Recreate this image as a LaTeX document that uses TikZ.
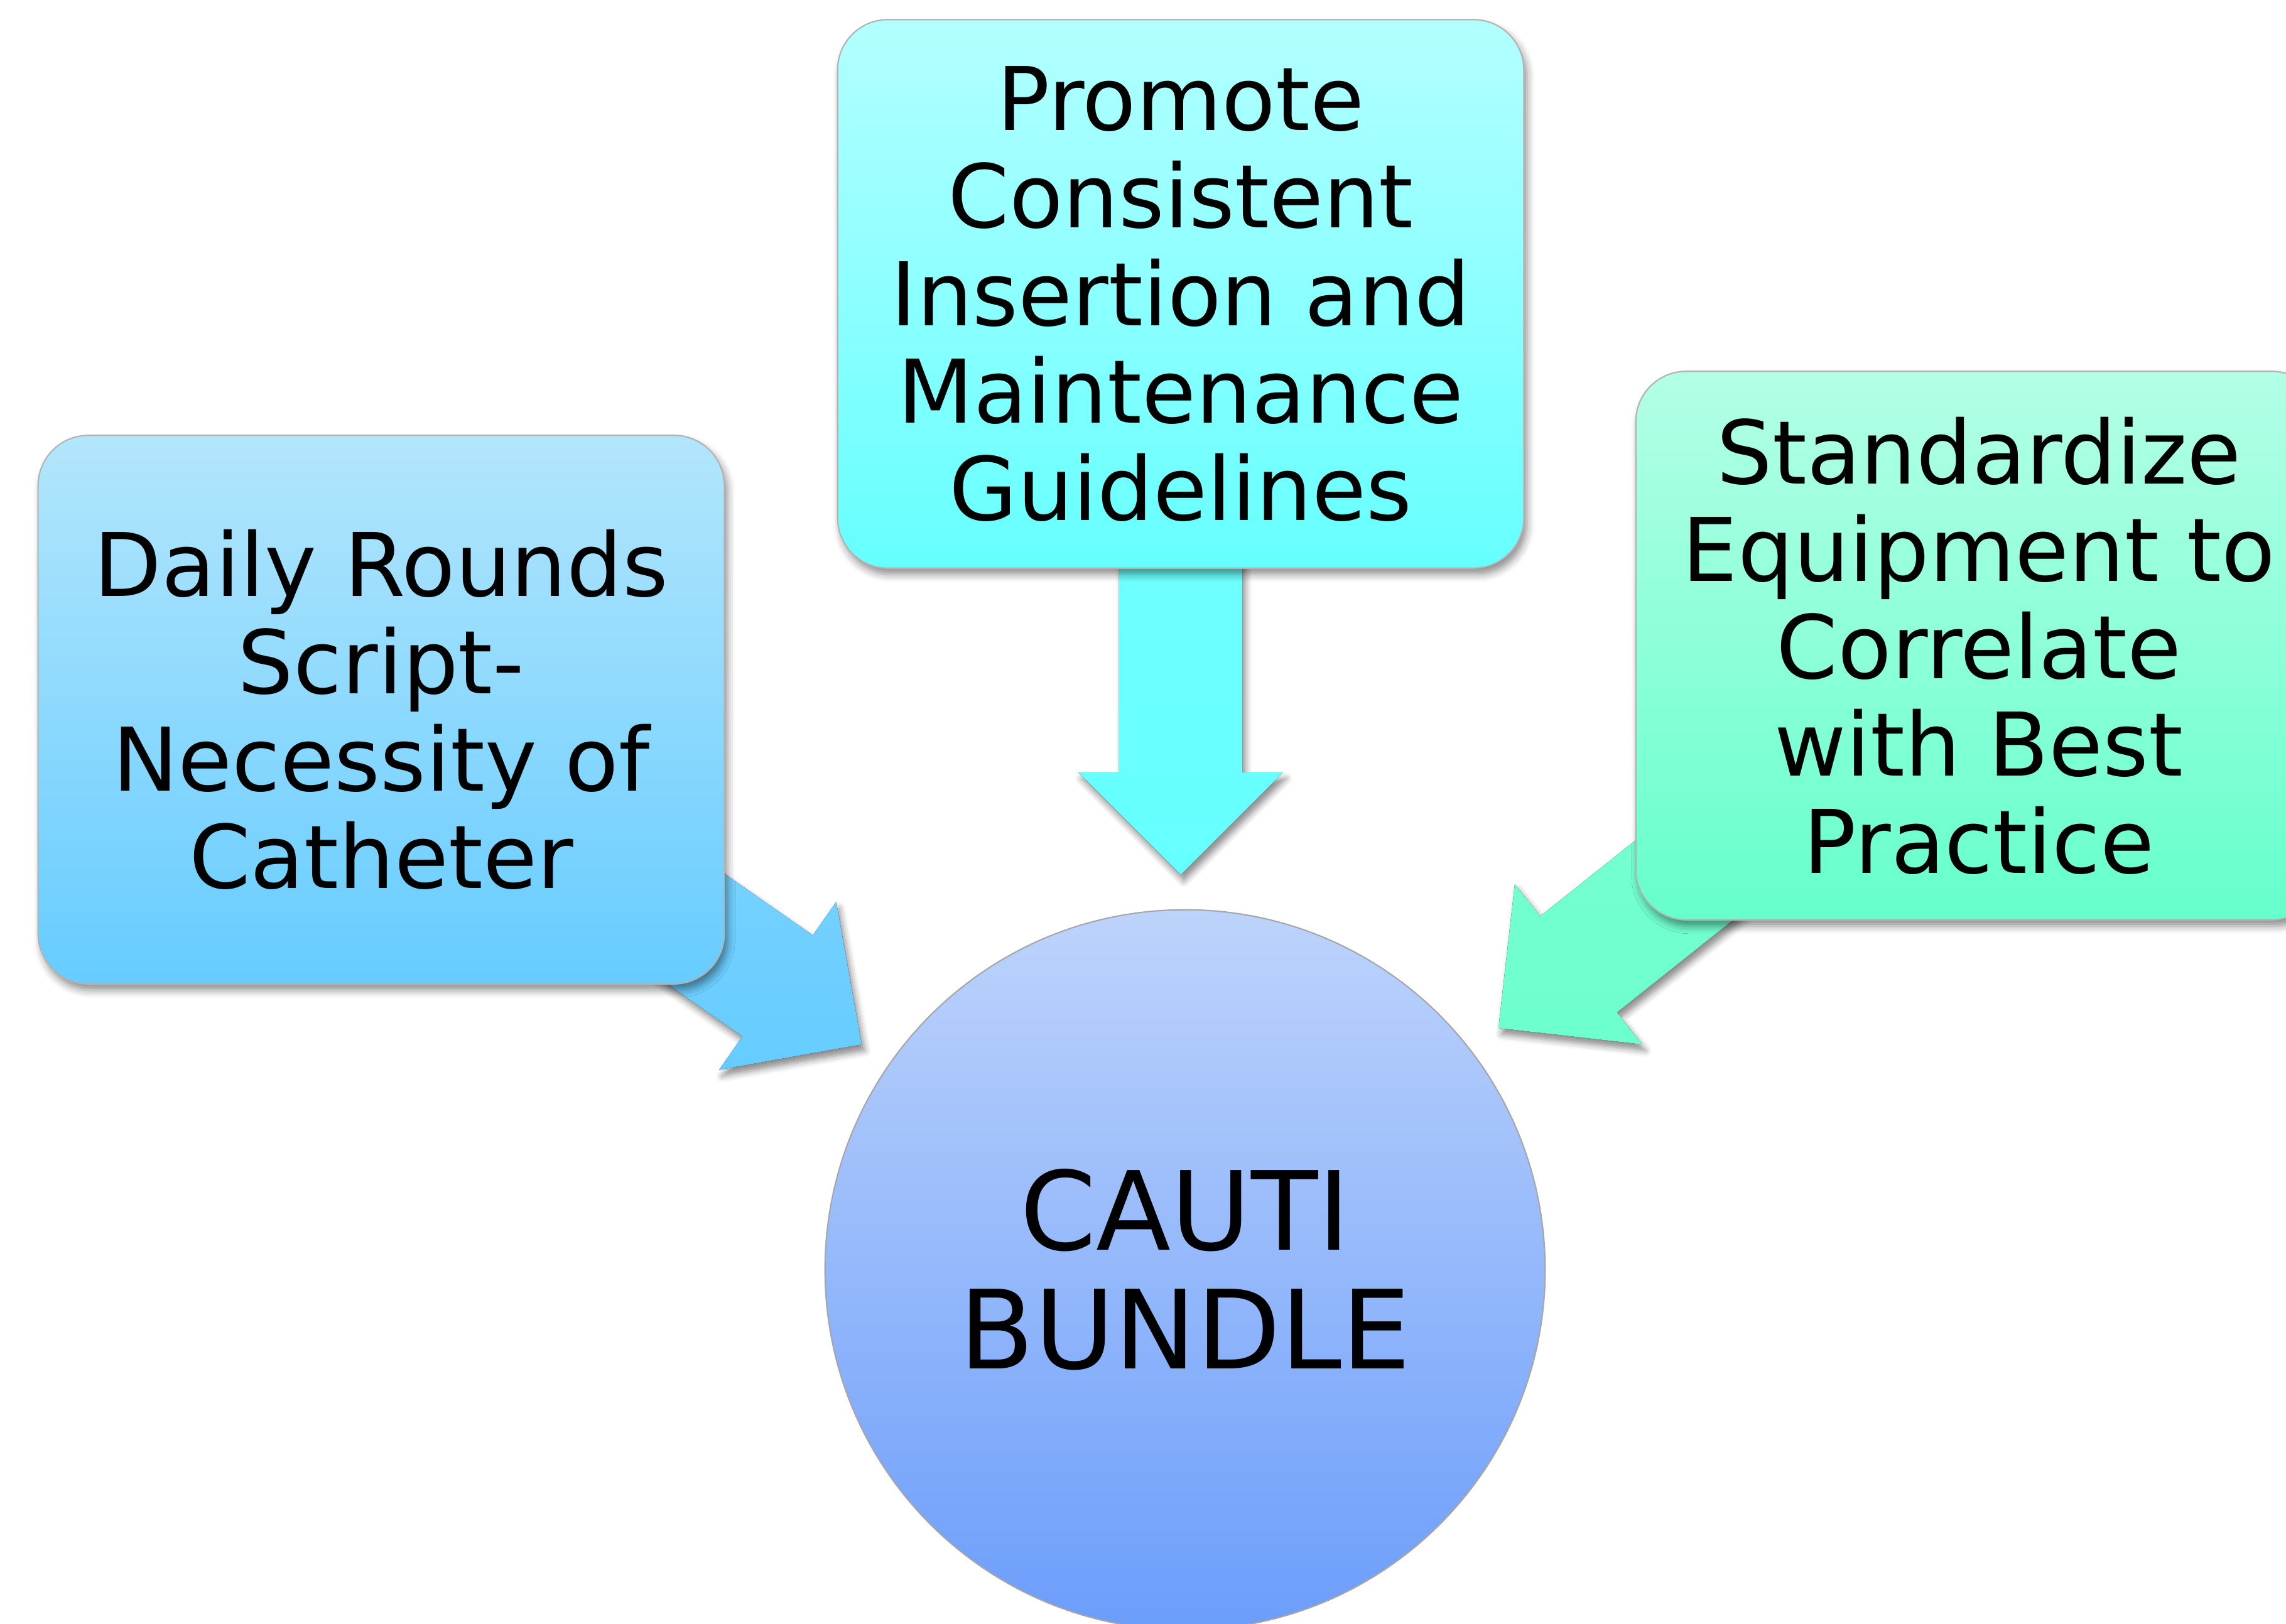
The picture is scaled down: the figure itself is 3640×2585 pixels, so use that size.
\documentclass[tikz,border=0pt]{standalone}
\usepackage{fontspec}
\setmainfont{DejaVu Sans}
\usetikzlibrary{calc,backgrounds,shadows.blur}

\definecolor{dailytop}{HTML}{B3E6FC}
\definecolor{dailybot}{HTML}{66CCFF}
\definecolor{promotetop}{HTML}{B3FFFF}
\definecolor{promotebot}{HTML}{66FFFF}
\definecolor{standardtop}{HTML}{B3FFE6}
\definecolor{standardbot}{HTML}{66FFCC}
\definecolor{bundletop}{HTML}{BDD3FB}
\definecolor{bundlebot}{HTML}{6B9DFB}

\tikzset{
  box/.style={draw=black!30, line width=0.6pt, rounded corners=0.8cm,
    minimum width=10.92cm, minimum height=8.73cm, align=center,
    font=\fontsize{39.8}{44.1}\selectfont,
    blur shadow={shadow xshift=0.05cm, shadow yshift=-0.1cm,
      shadow blur radius=0.12cm, shadow opacity=45}},
  hub/.style={circle, draw=black!35, line width=0.6pt, minimum size=11.46cm,
    align=center, inner sep=0pt, font=\fontsize{49.5}{53.8}\selectfont},
  blockarrowstyle/.style={blur shadow={shadow xshift=0.05cm, shadow yshift=-0.1cm,
      shadow blur radius=0.1cm, shadow opacity=45}}
}

% block arrow from a box centre to a tip coordinate
\newcommand{\blockarrow}[3]{%
  \fill[blockarrowstyle, #3] (#2)
    -- ($(#2)!2.305cm!45:(#1.center)$)
    -- ($(#2)!1.63cm!(#1.center)!0.98cm!90:(#1.center)$)
    -- ($(#1.center)!0.98cm!-90:(#2)$)
    -- ($(#1.center)!0.98cm!90:(#2)$)
    -- ($(#2)!1.63cm!(#1.center)!0.98cm!-90:(#1.center)$)
    -- ($(#2)!2.305cm!-45:(#1.center)$)
    -- cycle;}

\begin{document}
\begin{tikzpicture}[x=0.01cm, y=-0.01cm]
  \useasboundingbox (0,0) rectangle (3640,2585);

  \node[box, top color=promotetop, bottom color=promotebot] (promote) at (1880,468)
    {Promote\\Consistent\\Insertion and\\Maintenance\\Guidelines};
  \node[box, top color=dailytop, bottom color=dailybot] (daily) at (607,1130)
    {Daily Rounds\\Script-\\Necessity of\\Catheter};
  \node[box, top color=standardtop, bottom color=standardbot] (standard) at (3151,1028)
    {Standardize\\Equipment to\\Correlate\\with Best\\Practice};
  \node[hub, top color=bundletop, bottom color=bundlebot] (bundle) at (1887,2022)
    {CAUTI\\BUNDLE};

  \coordinate (tipdaily) at (1372,1663);
  \coordinate (tippromote) at (1880,1393);
  \coordinate (tipstandard) at (2386,1637);

  \begin{scope}[on background layer]
    \blockarrow{daily}{tipdaily}{top color=dailybot!80!white, bottom color=dailybot}
    \blockarrow{promote}{tippromote}{top color=promotebot!90!white, bottom color=promotebot}
    \blockarrow{standard}{tipstandard}{top color=standardbot!85!white, bottom color=standardbot!95!white}
  \end{scope}
\end{tikzpicture}
\end{document}
